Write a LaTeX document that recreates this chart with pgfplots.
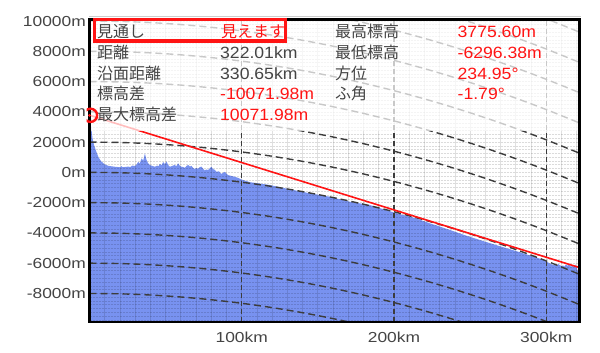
\documentclass[border=0pt]{standalone}
\usepackage{fontspec}
\setmainfont{Liberation Sans}
\newfontfamily\tickf[FakeStretch=1.2]{Liberation Sans}
\newfontfamily\valf[FakeStretch=1.08]{Liberation Sans}
\newfontfamily\jp{Noto Sans CJK JP}
\usepackage{pgfplots}
\pgfplotsset{compat=1.18}
\usepackage{pgfplotstable}
\definecolor{terrain}{RGB}{120,146,240}
\definecolor{txt}{RGB}{68,68,68}
\definecolor{gline}{RGB}{60,60,60}
\definecolor{lred}{RGB}{255,20,20}

\pgfplotstableread{
x y
0 3775.6
0.3 3650
1.2 2900
2.0 2240
3.0 1800
4.5 1360
5.8 1030
7.0 820
8.0 700
10.0 530
12.3 435
14.5 400
16.7 370
19.0 350
20.3 330
21.0 420
21.8 340
23.5 360
25.4 380
27.0 350
28.0 450
29.8 420
31.0 520
32.0 700
33.0 580
34.2 920
35.3 780
36.4 1250
37.5 810
38.5 600
39.7 480
41.5 420
43.0 370
44.5 450
45.3 400
46.2 560
47.3 470
48.4 680
49.5 540
50.6 720
51.7 480
52.8 370
54.5 430
56.0 490
57.0 400
58.2 600
59.3 440
60.4 370
61.5 350
62.6 300
63.7 420
64.8 490
66.0 380
67.0 430
68.0 300
69.2 220
70.2 290
71.3 240
72.4 340
73.5 380
74.6 250
75.7 130
76.8 190
77.9 150
79.0 260
80.1 370
81.2 210
82.2 180
83.3 40
85.0 70
86.6 -110
87.8 -20
88.9 30
90.0 -90
91.0 -180
93.0 -230
95.4 -290
97.5 -360
100 -480
102 -540
105.4 -650
112 -740
118.6 -840
125 -980
131.8 -1120
138 -1250
144.8 -1385
151 -1490
157.9 -1610
164 -1770
171 -1940
177 -2040
184.1 -2155
192 -2400
199.4 -2630
206 -2820
213.6 -3010
224 -3380
235.5 -3760
246 -4130
257.4 -4500
268 -4830
279.2 -5170
289 -5480
298.9 -5800
300.5 -5900
302 -6000
303.5 -6080
305.4 -6120
307 -6150
308 -6060
309 -6130
310 -6200
311 -6150
311.9 -6220
313 -6080
314 -6180
315 -6050
316.3 -6250
317.5 -6120
318.5 -6290
319.5 -6080
320.2 -6350
320.8 -6560
321.5 -6300
322.01 -6500
322.01 -10000
0 -10000
}\terraintab

\pgfplotstableread{
d drop
0 0
20 26
40 104
60 234
80 416
100 650
120 936
140 1274
160 1664
180 2106
200 2600
220 3146
240 3744
260 4394
280 5096
300 5850
322.01 6740
}\curvtab

\begin{document}
\begin{tikzpicture}[x=1pt,y=1pt]
\useasboundingbox (0,0) rectangle (600,353);
\begin{axis}[
 at={(89.5pt,30.8pt)}, anchor=south west,
 scale only axis, width=490.2pt, height=302.7pt,
 xmin=0, xmax=322.01, ymin=-9900, ymax=10100,
 axis line style={draw=none},
 scaled y ticks=false, scaled x ticks=false,
 xtick={100,200,300}, xticklabels={100km,200km,300km},
 ytick={-8000,-6000,-4000,-2000,0,2000,4000,6000,8000,10000},
 yticklabels={-8000m,-6000m,-4000m,-2000m,0m,2000m,4000m,6000m,8000m,10000m},
 major tick length=0pt,
 tick label style={font=\tickf\fontsize{14.5}{16}\selectfont, text=txt},
 yticklabel style={anchor=east, inner sep=0pt, xshift=-3.5pt},
 xticklabel style={anchor=north, inner sep=0pt, yshift=-10pt},
]
% terrain
\addplot[fill=terrain, draw=none] table[x=x,y=y] {\terraintab};
% fine texture grid
\pgfplotsinvokeforeach{10,20,30,40,50,60,70,80,90,100,110,120,130,140,150,160,170,180,190,200,210,220,230,240,250,260,270,280,290,300,310,320}{
  \draw[black, opacity=0.12, line width=0.7pt] (axis cs:#1,-9900) -- (axis cs:#1,10100);
}
\pgfplotsinvokeforeach{-9750,-9500,-9250,-9000,-8750,-8500,-8250,-8000,-7750,-7500,-7250,-7000,-6750,-6500,-6250,-6000,-5750,-5500,-5250,-5000,-4750,-4500,-4250,-4000,-3750,-3500,-3250,-3000,-2750,-2500,-2250,-2000,-1750,-1500,-1250,-1000,-750,-500,-250,0,250,500,750,1000,1250,1500,1750,2000,2250,2500,2750,3000,3250,3500,3750,4000,4250,4500,4750,5000,5250,5500,5750,6000,6250,6500,6750,7000,7250,7500,7750,8000,8250,8500,8750,9000,9250,9500,9750,10000}{
  \draw[black, opacity=0.14, line width=0.6pt, dash pattern=on 2pt off 1pt] (axis cs:0,#1) -- (axis cs:322.01,#1);
}
% curved dashed grid
\pgfplotsinvokeforeach{-8000,-6000,-4000,-2000,0,2000,4000,6000,8000,10000,12000,14000,16000}{
  \addplot[gline, line width=1.4pt, dash pattern=on 7pt off 4pt, smooth] table[x=d, y expr=#1-\thisrow{drop}] {\curvtab};
}
% vertical dashed
\pgfplotsinvokeforeach{100,200,300}{
  \draw[gline, line width=1.3pt, dash pattern=on 5pt off 3pt] (axis cs:#1,-9900) -- (axis cs:#1,10100);
}
% line of sight
\addplot[lred, line width=1.6pt] coordinates {(0,3775.6) (322.01,-6296.38)};
% info panel overlay
\fill[white, opacity=0.72] (axis cs:0,2700) rectangle (axis cs:322.01,10100);
\end{axis}
% frame
\draw[gray!40, line width=0.8pt] (89,336.6) -- (581,336.6);
\draw[black, line width=2.6pt] (89.5,30.8) rectangle (579.7,333.5);
\begin{scope}
\clip (86.5,0) rectangle (600,353);
\draw[lred, line width=2.4pt] (90.5,237.7) circle (6.6);
\end{scope}
\fill[lred] (89.5,237.7) circle (1.5);
% info text
\tikzset{lab/.style={anchor=base west, inner sep=0pt, text=txt, font=\jp\fontsize{16}{16}\selectfont},
         val/.style={anchor=base west, inner sep=0pt, text=txt, font=\valf\fontsize{16.3}{16}\selectfont},
         rval/.style={val, text=lred}}
\node[lab] at (97,315.3) {見通し};
\node[lab] at (97,294.6) {距離};
\node[lab] at (97,273.9) {沿面距離};
\node[lab] at (97,253.2) {標高差};
\node[lab] at (97,232.5) {最大標高差};
\node[lab, text=lred] at (221,315.3) {見えます};
\node[val] at (220,294.6) {322.01km};
\node[val] at (220,273.9) {330.65km};
\node[rval] at (220,253.2) {-10071.98m};
\node[rval] at (220,232.5) {10071.98m};
\node[lab] at (335,315.3) {最高標高};
\node[lab] at (335,294.6) {最低標高};
\node[lab] at (335,273.9) {方位};
\node[lab] at (335,253.2) {ふ角};
\node[rval] at (457.5,315.3) {3775.60m};
\node[rval] at (457.5,294.6) {-6296.38m};
\node[rval] at (457.5,273.9) {234.95°};
\node[rval] at (457.5,253.2) {-1.79°};
\draw[lred, line width=3.2pt] (94.3,333.7) rectangle (285.7,312);
\end{tikzpicture}
\end{document}
